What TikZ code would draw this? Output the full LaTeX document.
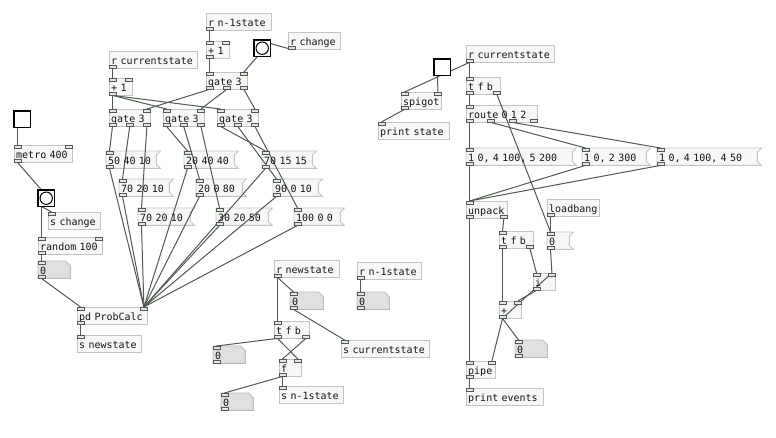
\documentclass[tikz,border=0pt]{standalone}
\usepackage{fontspec}
\newfontfamily\pdfont{DejaVu Sans Mono}
\usetikzlibrary{calc}

\pgfdeclarelayer{boxes}
\pgfdeclarelayer{wires}
\pgfdeclarelayer{front}
\pgfsetlayers{boxes,wires,main,front}

\definecolor{boxline}{HTML}{C4C4C4}
\definecolor{boxfill}{HTML}{F6F7F6}
\definecolor{numfill}{HTML}{E0E0E0}
\definecolor{numline}{HTML}{BDBDBD}
\definecolor{wirecol}{HTML}{4E5B4E}
\definecolor{nubfill}{HTML}{E2E7E2}
\definecolor{inkcol}{HTML}{141414}

% monospaced patch font with fixed-width spaces
\newcommand\pdfontsel{\pdfont\fontsize{10pt}{12pt}\selectfont
  \fontdimen2\font=6.02pt \fontdimen3\font=0pt \fontdimen4\font=0pt
  \fontdimen7\font=0pt \frenchspacing}

\tikzset{
  pdlabel/.style={draw=none, fill=none, rectangle, anchor=north west,
    inner xsep=2pt, inner ysep=2pt, minimum height=17pt,
    text height=11pt, text depth=2pt, align=left, text=inkcol,
    font=\pdfontsel},
  guibox/.style={draw=none, rectangle, anchor=north west, inner sep=0pt,
    minimum width=16pt, minimum height=16pt},
  objframe/.style={draw=boxline, fill=boxfill, line width=0.9pt},
  numframe/.style={draw=numline, fill=numfill, line width=0.9pt},
  nub/.style={draw=wirecol, fill=nubfill, line width=0.7pt},
  wire/.style={draw=wirecol, line width=1pt},
  guiframe/.style={draw=black, fill=white, line width=1.3pt},
}

% a row of inlets (north) or outlets (south) on a box
\newcommand\pdrow[4]{%
  \ifnum#3=1
    \path[nub] ($(#1.#2 west)+(0,#4)$) rectangle ++(7,3);
  \else
    \foreach \k in {1,...,#3} {
      \pgfmathsetmacro\nubfrac{(\k-1)/(#3-1)}
      \path[nub] ($(#1.#2 west)!\nubfrac!(#1.#2 east)+({-7*\nubfrac},#4)$) rectangle ++(7,3);
    }
  \fi}
\newcommand\pdnubs[3]{%
  \ifnum#2>0 \pdrow{#1}{north}{#2}{0}\fi
  \ifnum#3>0 \pdrow{#1}{south}{#3}{-3}\fi}

% object box: name, x, y, width, inlets, outlets, text
\newcommand\pdobj[7]{%
  \pgfmathsetmacro\pdtw{#4-4}
  \node[pdlabel, text width=\pdtw pt] (#1) at (#2,#3) {\mbox{#7}};
  \begin{pgfonlayer}{boxes}
    \path[objframe] (#1.north west) rectangle (#1.south east);
  \end{pgfonlayer}
  \pdnubs{#1}{#5}{#6}}

% message box with flag: name, x, y, total width, text
\newcommand\pdmsg[5]{%
  \pgfmathsetmacro\pdtw{#4-8}
  \node[pdlabel, text width=\pdtw pt] (#1) at (#2,#3) {\mbox{#5}};
  \begin{pgfonlayer}{boxes}
    \path[objframe] (#1.north west) -- ($(#1.north east)+(4,0)$)
      -- ($(#1.north east)+(0,4)$) -- ($(#1.south east)+(0,-4)$)
      -- ($(#1.south east)+(4,0)$) -- (#1.south west) -- cycle;
  \end{pgfonlayer}
  \pdnubs{#1}{1}{1}}

% number box: name, x, y, width
\newcommand\pdnum[4]{%
  \pgfmathsetmacro\pdtw{#4-4}
  \node[pdlabel, text width=\pdtw pt] (#1) at (#2,#3) {0};
  \begin{pgfonlayer}{boxes}
    \path[numframe] (#1.north west) -- ($(#1.north east)+(-5,0)$)
      -- ($(#1.north east)+(0,5)$) -- (#1.south east) -- (#1.south west) -- cycle;
  \end{pgfonlayer}
  \pdnubs{#1}{1}{1}}

% bang and toggle
\newcommand\pdbang[3]{%
  \node[guibox] (#1) at (#2,#3) {};
  \begin{pgfonlayer}{front}
    \path[guiframe] (#1.north west) rectangle (#1.south east);
    \draw[black, line width=1pt, fill=white] (#1.center) circle (6.2pt);
  \end{pgfonlayer}}
\newcommand\pdtgl[3]{%
  \node[guibox] (#1) at (#2,#3) {};
  \begin{pgfonlayer}{front}
    \path[guiframe] (#1.north west) rectangle (#1.south east);
  \end{pgfonlayer}}

% connection: source, outlet fraction, target, inlet fraction
\newcommand\wire[4]{%
  \begin{pgfonlayer}{wires}
    \draw[wire] ($(#1.south west)!#2!(#1.south east)+({3.5-7*#2},0)$)
      -- ($(#3.north west)!#4!(#3.north east)+({3.5-7*#4},0)$);
  \end{pgfonlayer}}

\begin{document}
\begin{tikzpicture}[x=1pt,y=-1pt]
\begin{pgfonlayer}{boxes}
  \fill[white] (0,0) rectangle (776,437);
\end{pgfonlayer}
\useasboundingbox (0,0) rectangle (776,437);

% --- random trigger ---
\pdtgl{tglA}{14}{111}
\pdobj{metro}{14}{145}{58}{2}{1}{metro 400}
\pdbang{bangB}{38}{190}
\pdobj{schange}{48}{212}{52}{1}{0}{s change}
\pdobj{random}{38}{237}{64}{2}{1}{random 100}
\pdnum{numA}{38}{261}{32}
\pdobj{pd}{77}{307}{70}{2}{1}{pd ProbCalc}
\pdobj{snew}{77}{335}{64}{1}{0}{s newstate}

% --- transition table selection ---
\pdobj{rnA}{206}{13}{65}{0}{1}{r n-1state}
\pdobj{plusA}{206}{41}{23}{2}{1}{+ 1}
\pdbang{bangA}{254}{40}
\pdobj{rchange}{288}{32}{52}{0}{1}{r change}
\pdobj{gateT}{206}{72}{41}{2}{3}{gate 3}
\pdobj{rcsA}{109}{51}{88}{0}{1}{r currentstate}
\pdobj{plusB}{109}{78}{23}{2}{1}{+ 1}
\pdobj{gateA}{109}{109}{41}{2}{3}{gate 3}
\pdobj{gateB}{163}{109}{41}{2}{3}{gate 3}
\pdobj{gateC}{217}{109}{41}{2}{3}{gate 3}

\pdmsg{mA1}{106}{151}{54}{50 40 10}
\pdmsg{mA2}{119}{179}{54}{70 20 10}
\pdmsg{mA3}{138}{208}{56}{70 20 10}
\pdmsg{mB1}{184}{151}{54}{20 40 40}
\pdmsg{mB2}{196}{179}{50}{20 0 80}
\pdmsg{mB3}{216}{208}{56}{30 20 50}
\pdmsg{mC1}{262}{151}{54}{70 15 15}
\pdmsg{mC2}{273}{179}{49}{90 0 10}
\pdmsg{mC3}{294}{208}{50}{100 0 0}

% --- state memory ---
\pdobj{rnew}{274}{260}{65}{0}{1}{r newstate}
\pdnum{numB}{290}{292}{33}
\pdobj{rnB}{357}{262}{64}{0}{1}{r n-1state}
\pdnum{numC}{357}{292}{32}
\pdobj{tfbA}{274}{321}{35}{1}{2}{t f b}
\pdnum{numD}{213}{346}{32}
\pdobj{scs}{341}{340}{88}{1}{0}{s currentstate}
\pdobj{fbox}{279}{359}{22}{2}{1}{f}
\pdobj{snA}{279}{386}{64}{1}{0}{s n-1state}
\pdnum{numE}{221}{393}{32}

% --- event output ---
\pdobj{rcsB}{466}{45}{88}{0}{1}{r currentstate}
\pdtgl{tglB}{434}{59}
\pdobj{spigot}{401}{92}{40}{2}{1}{spigot}
\pdobj{pstate}{378}{122}{71}{1}{0}{print state}
\pdobj{tfbB}{466}{77}{34}{1}{2}{t f b}
\pdobj{route}{466}{105}{71}{1}{4}{route 0 1 2}
\pdmsg{mR1}{466}{148}{110}{1 0, 4 100, 5 200}
\pdmsg{mR2}{582}{148}{68}{1 0, 2 300}
\pdmsg{mR3}{657}{148}{104}{1 0, 4 100, 4 50}
\pdobj{loadbang}{547}{199}{52}{0}{1}{loadbang}
\pdobj{unpack}{466}{201}{41}{1}{2}{unpack}
\pdobj{tfbC}{499}{231}{34}{1}{2}{t f b}
\pdmsg{mZero}{547}{232}{26}{0}
\pdobj{ibox}{533}{273}{22}{2}{1}{i}
\pdobj{plus}{499}{301}{22}{2}{1}{+}
\pdnum{numF}{515}{340}{32}
\pdobj{pipe}{466}{361}{29}{2}{1}{pipe}
\pdobj{pevents}{466}{388}{77}{1}{0}{print events}

% --- connections ---
\wire{tglA}{0}{metro}{0}
\wire{metro}{0}{bangB}{0}
\wire{bangB}{0}{schange}{0}
\wire{bangB}{0}{random}{0}
\wire{random}{0}{numA}{0}
\wire{numA}{0}{pd}{0}
\wire{pd}{0}{snew}{0}
\foreach \m in {mA1,mA2,mA3,mB1,mB2,mB3,mC1,mC2,mC3} {\wire{\m}{0}{pd}{1}}

\wire{rnA}{0}{plusA}{0}
\wire{plusA}{0}{gateT}{0}
\wire{rchange}{0}{bangA}{0}
\wire{bangA}{0}{gateT}{1}
\wire{gateT}{0}{gateA}{1}
\wire{gateT}{0.5}{gateB}{1}
\wire{gateT}{1}{gateC}{1}
\wire{rcsA}{0}{plusB}{0}
\wire{plusB}{0}{gateA}{0}
\wire{plusB}{0}{gateB}{0}
\wire{plusB}{0}{gateC}{0}
\wire{gateA}{0}{mA1}{0}
\wire{gateA}{0.5}{mA2}{0}
\wire{gateA}{1}{mA3}{0}
\wire{gateB}{0}{mB1}{0}
\wire{gateB}{0.5}{mB2}{0}
\wire{gateB}{1}{mB3}{0}
\wire{gateC}{0}{mC1}{0}
\wire{gateC}{0.5}{mC2}{0}
\wire{gateC}{1}{mC3}{0}

\wire{rnew}{0}{tfbA}{0}
\wire{rnew}{0}{numB}{0}
\wire{numB}{0}{scs}{0}
\wire{rnB}{0}{numC}{0}
\wire{tfbA}{0}{numD}{0}
\wire{tfbA}{0}{fbox}{1}
\wire{tfbA}{1}{fbox}{0}
\wire{fbox}{0}{snA}{0}
\wire{fbox}{0}{numE}{0}

\wire{rcsB}{0}{tfbB}{0}
\wire{rcsB}{0}{spigot}{0}
\wire{tglB}{0}{spigot}{1}
\wire{spigot}{0}{pstate}{0}
\wire{tfbB}{0}{route}{0}
\wire{tfbB}{1}{mZero}{0}
\wire{route}{0}{mR1}{0}
\wire{route}{0.33333}{mR2}{0}
\wire{route}{0.66667}{mR3}{0}
\wire{mR1}{0}{unpack}{0}
\wire{mR2}{0}{unpack}{0}
\wire{mR3}{0}{unpack}{0}
\wire{unpack}{0}{pipe}{0}
\wire{unpack}{1}{tfbC}{0}
\wire{loadbang}{0}{mZero}{0}
\wire{mZero}{0}{ibox}{1}
\wire{tfbC}{0}{plus}{0}
\wire{tfbC}{1}{ibox}{0}
\wire{ibox}{0}{plus}{1}
\wire{plus}{0}{ibox}{1}
\wire{plus}{0}{pipe}{1}
\wire{plus}{0}{numF}{0}
\wire{pipe}{0}{pevents}{0}
\end{tikzpicture}
\end{document}
